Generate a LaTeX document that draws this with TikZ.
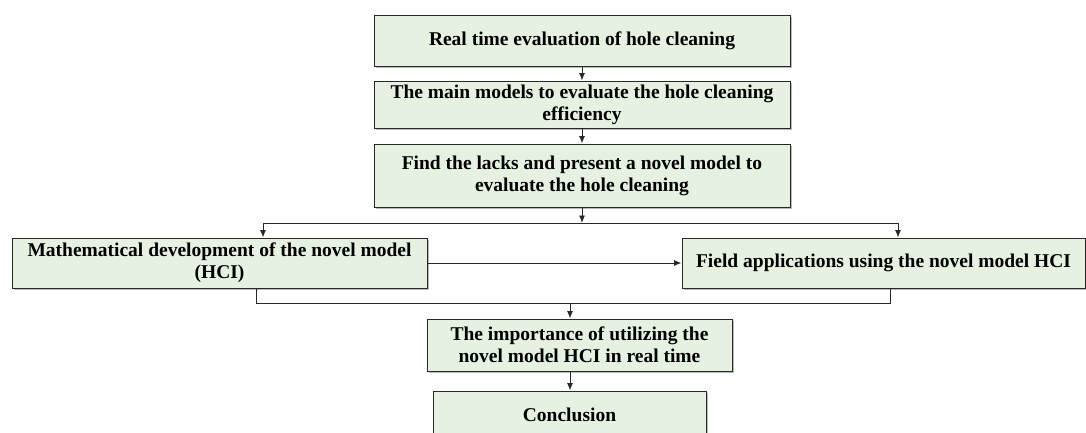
\documentclass[tikz,border=0pt]{standalone}
\usepackage{fontspec}
\setmainfont{Liberation Serif}
\usetikzlibrary{arrows.meta,shadows}
\definecolor{boxfill}{RGB}{230,241,226}
\definecolor{lineclr}{RGB}{40,40,40}
\begin{document}
\begin{tikzpicture}[x=1pt,y=-1pt,
  box/.style={draw=lineclr,line width=1pt,fill=boxfill,inner sep=0pt,align=center,
    font=\fontsize{19.5}{22}\selectfont\bfseries,
    drop shadow={shadow xshift=1.5pt,shadow yshift=-1.5pt,fill=black!45,opacity=0.6}},
  conn/.style={draw=lineclr,line width=0.9pt},
  arr/.style={conn,-{Latex[length=7.5pt,width=6pt]}}]
\useasboundingbox (0,0) rectangle (1086,432);
\node[box,minimum width=416pt,minimum height=51pt] (b1) at (582,40.5) {Real time evaluation of hole cleaning};
\node[box,minimum width=416pt,minimum height=47pt] (b2) at (582,104.5) {The main models to evaluate the hole cleaning\\efficiency};
\node[box,minimum width=416pt,minimum height=63pt] (b3) at (582,175.5) {Find the lacks and present a novel model to\\evaluate the hole cleaning};
\node[box,minimum width=415pt,minimum height=50pt] (left) at (219.5,263) {Mathematical development of the novel model\\(HCI)};
\node[box,minimum width=403pt,minimum height=50pt] (right) at (883.5,263) {Field applications using the novel model HCI};
\node[box,minimum width=305pt,minimum height=52pt] (imp) at (579.5,345) {The importance of utilizing the\\novel model HCI in real time};
\node[box,minimum width=273pt,minimum height=48pt] (concl) at (569.5,415) {Conclusion};
\coordinate (sl) at (263,223);
\coordinate (sr) at (898,223);
\coordinate (ml) at (256,303);
\coordinate (mr) at (890,303);
\coordinate (mm) at (570,303);
\draw[arr] (b1) -- (b2);
\draw[arr] (b2) -- (b3);
\draw[arr] (b3.south) -- (b3.south |- sl);
\draw[conn] (sl) -- (sr);
\draw[arr] (sl) -- (sl |- left.north);
\draw[arr] (sr) -- (sr |- right.north);
\draw[arr] (left.east) -- (right.west);
\draw[conn] (ml |- left.south) -- (ml) -- (mr) -- (mr |- right.south);
\draw[arr] (mm) -- (mm |- imp.north);
\draw[arr] (mm |- imp.south) -- (mm |- concl.north);
\end{tikzpicture}
\end{document}
